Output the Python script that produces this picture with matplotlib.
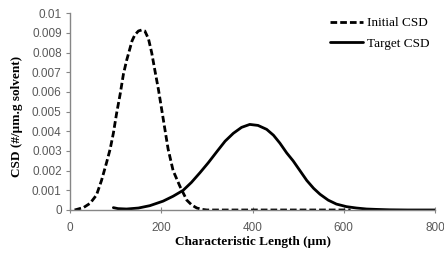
import matplotlib
matplotlib.use("Agg")
import matplotlib.pyplot as plt
from matplotlib.ticker import FixedLocator, FixedFormatter

# Initial CSD (dashed)
init_x = [10, 15, 30, 44, 58, 69, 80, 88, 95, 102, 110, 117, 124, 130, 136, 142, 150,
          157, 164, 172, 179, 186, 194, 201, 208, 215, 226, 241, 256, 267, 278, 290,
          300, 400, 500, 615]
init_y = [0.0, 0.00003, 0.00013, 0.00034, 0.00076, 0.0015, 0.0024, 0.0031, 0.0039,
          0.0049, 0.0059, 0.0069, 0.0076, 0.0081, 0.0086, 0.0089, 0.0091, 0.00915,
          0.0091, 0.0087, 0.008, 0.0071, 0.0061, 0.0051, 0.0041, 0.0031, 0.002,
          0.0012, 0.0005, 0.00025, 0.0001, 0.00003, 0.0, 0.0, 0.0, 0.0]

# Target CSD (solid)
targ_x = [95, 105, 124, 150, 175, 204, 226, 248, 266, 285, 303, 323, 340, 358, 376,
          394, 412, 431, 446, 460, 475, 489, 504, 519, 534, 548, 566, 584, 606, 628,
          650, 672, 700, 740, 800]
targ_y = [0.00012, 0.00007, 0.00005, 0.0001, 0.00022, 0.00045, 0.0007, 0.001, 0.0014,
          0.0019, 0.0024, 0.003, 0.0035, 0.0039, 0.0042, 0.00435, 0.0043, 0.0041,
          0.0038, 0.0034, 0.0029, 0.0025, 0.002, 0.0015, 0.0011, 0.0008, 0.0005,
          0.0003, 0.00017, 0.0001, 0.00005, 0.00003, 0.00001, 0.0, 0.0]

y_ticks = [0, 0.001, 0.002, 0.003, 0.004, 0.005, 0.006, 0.007, 0.008, 0.009, 0.01]
y_labels = ["0", "0.001", "0.002", "0.003", "0.004", "0.005", "0.006", "0.007",
            "0.008", "0.009", "0.01"]
x_ticks = [0, 200, 400, 600, 800]

grey = "#868686"
label_grey = "#595959"

fig = plt.figure(figsize=(4.44, 2.57), dpi=100)
ax = fig.add_axes([0.1577, 0.1829, 0.822, 0.7654])

ax.plot(init_x, init_y, color="black", lw=2.0, linestyle=(0, (2.4, 1.1)),
        solid_joinstyle="round", label="Initial CSD")
ax.plot(targ_x, targ_y, color="black", lw=2.0, solid_joinstyle="round",
        solid_capstyle="round", label="Target CSD")

ax.set_xlim(0, 800)
ax.set_ylim(0, 0.01)
ax.xaxis.set_major_locator(FixedLocator(x_ticks))
ax.yaxis.set_major_locator(FixedLocator(y_ticks))
ax.yaxis.set_major_formatter(FixedFormatter(y_labels))

for s in ["top", "right"]:
    ax.spines[s].set_visible(False)
for s in ["left", "bottom"]:
    ax.spines[s].set_color(grey)
    ax.spines[s].set_linewidth(1.0)

ax.tick_params(axis="y", direction="out", length=3, color=grey, labelcolor=label_grey,
               labelsize=8.5, pad=3)
ax.tick_params(axis="x", direction="inout", length=5, color=grey, labelcolor=label_grey,
               labelsize=8.5, pad=6)
for lbl in ax.get_xticklabels() + ax.get_yticklabels():
    lbl.set_fontfamily("Liberation Sans")

ax.set_xlabel("Characteristic Length (µm)", fontfamily="Liberation Serif",
              fontweight="bold", fontsize=9.5, va="center")
ax.set_ylabel("CSD (#/µm.g solvent)", fontfamily="Liberation Serif",
              fontweight="bold", fontsize=9.5, va="center")
ax.xaxis.set_label_coords(0.5, -0.161)
ax.yaxis.set_label_coords(-0.145, 0.475)

leg = fig.legend(loc="upper left", bbox_to_anchor=(330 / 444, 1 - 17 / 257),
                 frameon=False, borderpad=0, borderaxespad=0,
                 prop={"family": "Liberation Serif", "size": 9.5},
                 handlelength=2.5, handletextpad=0.3, labelspacing=0.65)

fig.savefig("out.png", dpi=100)
